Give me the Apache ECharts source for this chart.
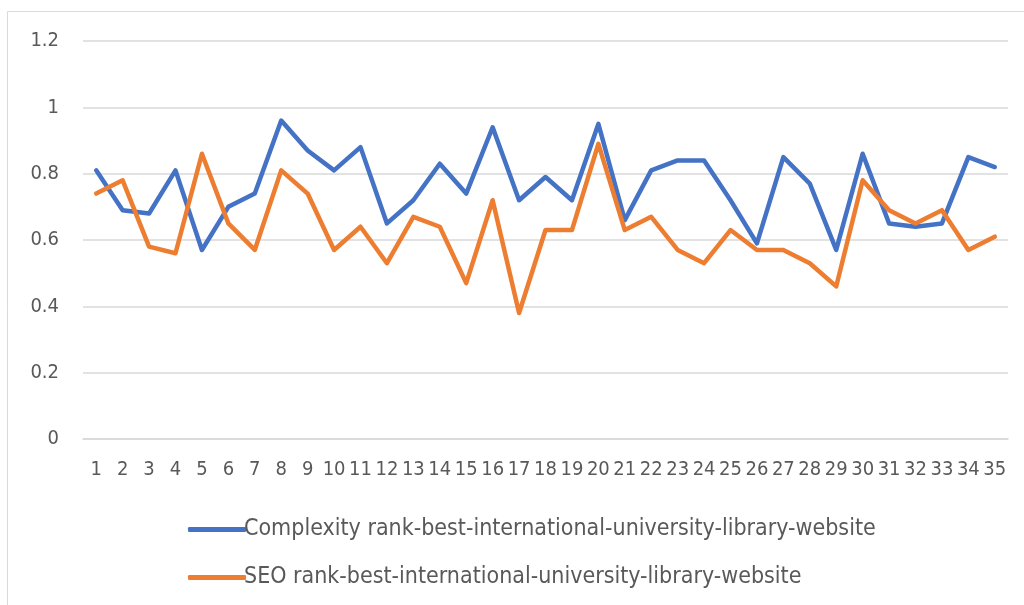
<!DOCTYPE html>
<html>
<head>
<meta charset="utf-8">
<script src="https://cdn.jsdelivr.net/npm/echarts@6/dist/echarts.min.js"></script>
<style>
html,body{margin:0;padding:0;background:#fff;}
#c{width:1024px;height:605px;}
</style>
</head>
<body>
<div id="c"></div>
<script>
const categories = Array.from({length:35},(_, i)=>String(i+1));
const complexity = [0.81,0.69,0.68,0.81,0.57,0.70,0.74,0.96,0.87,0.81,0.88,0.65,0.72,0.83,0.74,0.94,0.72,0.79,0.72,0.95,0.66,0.81,0.84,0.84,0.72,0.59,0.85,0.77,0.57,0.86,0.65,0.64,0.65,0.85,0.82];
const seo = [0.74,0.78,0.58,0.56,0.86,0.65,0.57,0.81,0.74,0.57,0.64,0.53,0.67,0.64,0.47,0.72,0.38,0.63,0.63,0.89,0.63,0.67,0.57,0.53,0.63,0.57,0.57,0.53,0.46,0.78,0.69,0.65,0.69,0.57,0.61];
const seriesNames = ['Complexity rank-best-international-university-library-website','SEO rank-best-international-university-library-website'];

const font = '"Liberation Sans Narrow", "DejaVu Sans Condensed", sans-serif';
const chart = echarts.init(document.getElementById('c'), null, {renderer:'canvas'});
chart.setOption({
  animation:false,
  backgroundColor:'#fff',
  graphic:[
    {type:'line', shape:{x1:7.5,y1:11.5,x2:1024,y2:11.5}, style:{stroke:'#d9d9d9',lineWidth:1}},
    {type:'line', shape:{x1:7.5,y1:11.5,x2:7.5,y2:605}, style:{stroke:'#d9d9d9',lineWidth:1}}
  ],
  grid:{left:83,right:16,top:41,bottom:166,containLabel:false},
  legend:{
    orient:'vertical', left:183, top:513,
    itemWidth:58, itemHeight:5, itemGap:25,
    icon:'roundRect',
    textStyle:{fontFamily:font,fontSize:23,color:'#595959',padding:[0,0,0,-7]},
    data:seriesNames
  },
  xAxis:{
    type:'category', data:categories, boundaryGap:true,
    axisLine:{lineStyle:{color:'#d9d9d9',width:1.5}},
    axisTick:{show:false},
    axisLabel:{fontFamily:font,fontSize:20,color:'#595959',margin:21,interval:0}
  },
  yAxis:{
    type:'value', min:0, max:1.2, interval:0.2,
    axisLine:{show:false}, axisTick:{show:false},
    splitLine:{lineStyle:{color:'#d9d9d9',width:1.5}},
    axisLabel:{fontFamily:font,fontSize:20,color:'#595959',margin:24}
  },
  series:[
    {name:seriesNames[0], type:'line', data:complexity, symbol:'none', lineStyle:{color:'#4472C4',width:4.5,cap:'round',join:'round'}, itemStyle:{color:'#4472C4'}},
    {name:seriesNames[1], type:'line', data:seo, symbol:'none', lineStyle:{color:'#ED7D31',width:4.5,cap:'round',join:'round'}, itemStyle:{color:'#ED7D31'}}
  ]
});
</script>
</body>
</html>
